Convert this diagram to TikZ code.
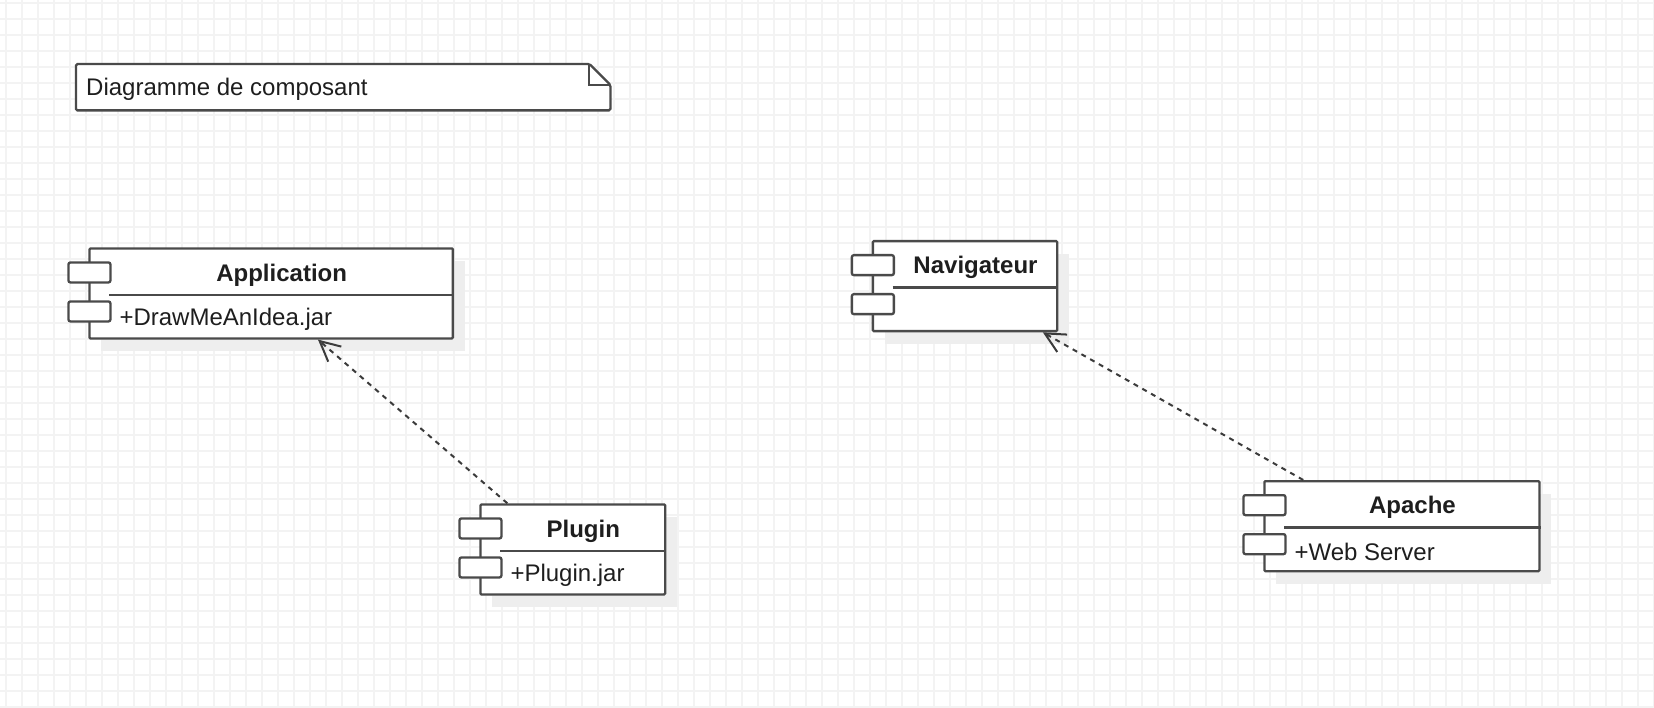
\documentclass[tikz,border=0pt]{standalone}
\usepackage{fontspec}
\setmainfont{Liberation Sans}
\usetikzlibrary{calc,arrows.meta}
\definecolor{linec}{HTML}{4A4A4A}
\definecolor{gridc}{HTML}{F3F3F3}
\definecolor{shadowc}{HTML}{EEEEEE}
\definecolor{textc}{HTML}{1E1E1E}
\tikzset{
  gridline/.style={draw=gridc, line width=1.3pt},
  compbody/.style={draw=linec, fill=white, line width=2.3pt, inner sep=0pt, rounded corners=1pt},
  compline/.style={draw=linec, line width=2.3pt},
  port/.style={draw=linec, fill=white, line width=2.3pt, inner sep=0pt, minimum width=42pt, minimum height=20pt, rounded corners=2pt},
  titletext/.style={font=\fontsize{24}{28}\selectfont\bfseries, text=textc, inner sep=0pt},
  attrtext/.style={font=\fontsize{24}{28}\selectfont, text=textc, inner sep=0pt},
  dep/.style={draw=linec!80!black, line width=2pt, dash pattern=on 5pt off 5pt, -{Straight Barb[length=20pt,width=20pt,line width=2pt]}},
}
\newcommand\umlcomp[7]{%
  \fill[shadowc] (#2+13,#3+14) rectangle ++(#4,#5);
  \node[compbody, minimum width=#4pt, minimum height=#5pt, anchor=north west] (#1) at (#2,#3) {};
  \draw[compline] ([xshift=21pt,yshift=-47.5pt]#1.north west) -- ([yshift=-47.5pt]#1.north east);
  \node[port, anchor=north west] (#1-p1) at ([xshift=-21pt,yshift=-14pt]#1.north west) {};
  \node[port, anchor=north west] (#1-p2) at ([xshift=-21pt,yshift=-53pt]#1.north west) {};
  \node[titletext] (#1-t) at ($([xshift=21pt,yshift=-4pt]#1.north west)!0.5!([yshift=-51.5pt]#1.north east)$) {#6};
  \node[attrtext, anchor=west] (#1-a) at ($([xshift=31pt,yshift=-49.5pt]#1.north west)!0.5!([xshift=31pt,yshift=-2pt]#1.south west)$) {#7};
}
\begin{document}
\begin{tikzpicture}[x=1pt,y=-1pt]
\useasboundingbox (0,0) rectangle (1654,708);
\fill[white] (0,0) rectangle (1654,708);
% grid
\foreach \i in {0,...,103} \draw[gridline] (6+\i*16,0) -- (6+\i*16,708);
\foreach \j in {0,...,44} \draw[gridline] (0,3+\j*16) -- (1654,3+\j*16);
% note
\node[inner sep=0pt, minimum width=534pt, minimum height=46pt, anchor=north west] (note) at (76,64) {};
\draw[linec, line width=2.3pt, rounded corners=1.5pt, fill=white]
  (note.north west) -- ([xshift=-21pt]note.north east) -- ([yshift=-21pt]note.north east)
  -- (note.south east) -- (note.south west) -- cycle;
\draw[linec, line width=2pt] ([xshift=-21pt]note.north east) -- ([xshift=-21pt,yshift=-21pt]note.north east) -- ([yshift=-21pt]note.north east);
\node[attrtext, anchor=west] (notetext) at ([xshift=10pt,yshift=-2pt]note.west) {Diagramme de composant};
% components
\umlcomp{app}{88.3}{247.3}{363.4}{90}{Application}{+DrawMeAnIdea.jar}
\umlcomp{nav}{871.7}{240}{184.3}{90}{Navigateur}{}
\umlcomp{plug}{479.3}{503.3}{184.7}{90}{Plugin}{+Plugin.jar}
\umlcomp{apache}{1263.3}{480}{275}{90}{Apache}{+Web Server}
% dependencies
\draw[dep] ($(plug.north west)!0.15!(plug.north east)$) -- ($(app.south west)!0.628!(app.south east)$);
\draw[dep] ($(apache.north west)!0.144!(apache.north east)$) -- ($(nav.south west)!0.917!(nav.south east)$);
\end{tikzpicture}
\end{document}
